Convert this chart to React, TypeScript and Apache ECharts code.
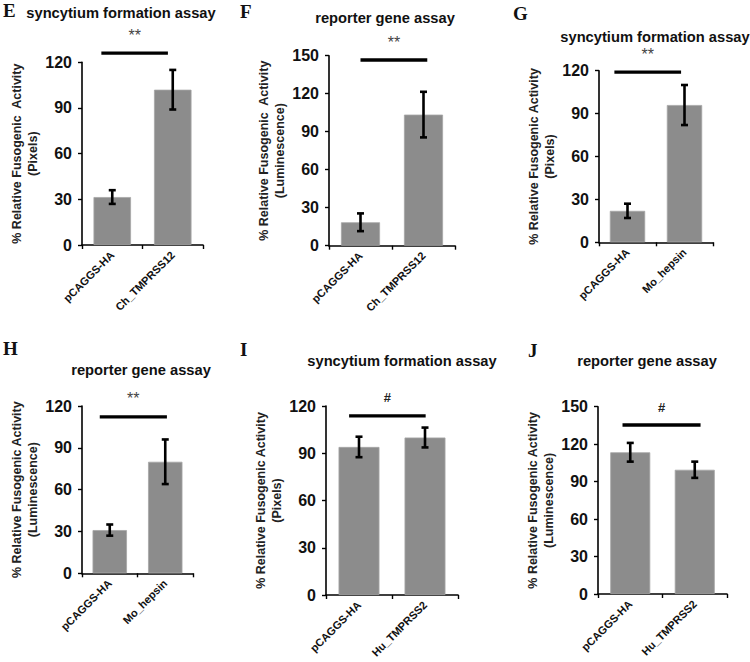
import React, { useEffect, useRef } from "react";
import * as echarts from "echarts";

// ---------- data ----------
const panelLetters = ["E", "F", "G", "H", "I", "J"];
const panelTitles = [
  "syncytium formation assay",
  "reporter gene assay",
  "syncytium formation assay",
  "reporter gene assay",
  "syncytium formation assay",
  "reporter gene assay",
];
const yAxisNames = [
  "% Relative Fusogenic  Activity\n(Pixels)",
  "% Relative Fusogenic  Activity\n(Luminescence)",
  "% Relative Fusogenic Activity\n(Pixels)",
  "% Relative Fusogenic Activity\n(Luminescence)",
  "% Relative Fusogenic Activity\n(Pixels)",
  "% Relative Fusogenic Activity\n(Luminescence)",
];

const categoriesE = ["pCAGGS-HA", "Ch_TMPRSS12"];
const valuesE = [31.5, 102];
const errorsE = [4.5, 13];

const categoriesF = ["pCAGGS-HA", "Ch_TMPRSS12"];
const valuesF = [18.5, 103.5];
const errorsF = [7, 18];

const categoriesG = ["pCAGGS-HA", "Mo_hepsin"];
const valuesG = [22, 96];
const errorsG = [5, 14];

const categoriesH = ["pCAGGS-HA", "Mo_hepsin"];
const valuesH = [31, 80];
const errorsH = [4, 16];

const categoriesI = ["pCAGGS-HA", "Hu_TMPRSS2"];
const valuesI = [94, 100];
const errorsI = [6.5, 6.3];

const categoriesJ = ["pCAGGS-HA", "Hu_TMPRSS2"];
const valuesJ = [113.5, 99.5];
const errorsJ = [7.5, 6.5];

const yMaxes = [120, 150, 120, 120, 120, 150];
const yInterval = 30;

const sigLabels = ["**", "**", "**", "**", "#", "#"];
const sigLevels = [126, 146.6, 119, 112.2, 113.7, 135.3];

// ---------- layout / style ----------
const grids = [
  { left: 82, top: 62.3, width: 121, height: 182.7 },
  { left: 329, top: 55.7, width: 126, height: 190 },
  { left: 599, top: 70.7, width: 114, height: 171.6 },
  { left: 82, top: 406, width: 111, height: 167.3 },
  { left: 326, top: 406, width: 132, height: 189 },
  { left: 598, top: 406.7, width: 129, height: 187.3 },
];
const nameGaps = [41, 39, 41, 41, 36, 38];
const sigSpans = [
  [-0.18, 0.92],
  [0, 1.06],
  [-0.23, 0.94],
  [-0.18, 1.03],
  [-0.15, 1.01],
  [-0.12, 1.09],
];
const letterPos = [
  [3, 10],
  [240, 11],
  [513, 13],
  [3, 348],
  [240, 349],
  [528, 350],
];
const titlePos = [
  [121, 12.5],
  [385, 18],
  [655, 37],
  [141, 370],
  [402, 361],
  [647, 361],
];

const SANS = "'Liberation Sans', Arial, sans-serif";
const SERIF = "'Liberation Serif', 'Times New Roman', serif";
const BAR_COLOR = "#8c8c8c";

const panels = [
  { cats: categoriesE, vals: valuesE, errs: errorsE },
  { cats: categoriesF, vals: valuesF, errs: errorsF },
  { cats: categoriesG, vals: valuesG, errs: errorsG },
  { cats: categoriesH, vals: valuesH, errs: errorsH },
  { cats: categoriesI, vals: valuesI, errs: errorsI },
  { cats: categoriesJ, vals: valuesJ, errs: errorsJ },
];

function buildOption() {
  const grid: any[] = [];
  const xAxis: any[] = [];
  const yAxis: any[] = [];
  const series: any[] = [];
  const graphic: any[] = [];

  panels.forEach((p, i) => {
    grid.push({ ...grids[i], containLabel: false });
    xAxis.push({
      type: "category",
      gridIndex: i,
      data: p.cats,
      axisLine: { show: true, lineStyle: { color: "#000", width: 1.6 } },
      axisTick: { show: true, length: 4, lineStyle: { color: "#000", width: 1.4 } },
      axisLabel: {
        interval: 0,
        rotate: 45,
        margin: 8,
        fontFamily: SANS,
        fontWeight: "bold",
        fontSize: 11,
        color: "#111",
      },
      splitLine: { show: false },
    });
    yAxis.push({
      type: "value",
      gridIndex: i,
      min: 0,
      max: yMaxes[i],
      interval: yInterval,
      name: yAxisNames[i],
      nameLocation: "middle",
      nameRotate: 90,
      nameGap: nameGaps[i],
      nameTextStyle: {
        fontFamily: SANS,
        fontWeight: "bold",
        fontSize: 12.5,
        lineHeight: 16,
        color: "#222",
        align: "center",
      },
      axisLine: { show: true, lineStyle: { color: "#000", width: 1.6 } },
      axisTick: { show: true, length: 4, lineStyle: { color: "#000", width: 1.4 } },
      axisLabel: {
        margin: 10,
        fontFamily: SANS,
        fontWeight: "bold",
        fontSize: 16,
        color: "#111",
      },
      splitLine: { show: false },
    });

    series.push({
      type: "bar",
      xAxisIndex: i,
      yAxisIndex: i,
      data: p.vals,
      barWidth: "62%",
      itemStyle: { color: BAR_COLOR, borderColor: "#a6a6a6", borderWidth: 0.8 },
      silent: true,
      z: 2,
    });

    series.push({
      type: "custom",
      xAxisIndex: i,
      yAxisIndex: i,
      data: p.vals.map((v, k) => [k, v, p.errs[k]]),
      encode: { x: 0, y: 1 },
      clip: false,
      z: 5,
      renderItem: (params: any, api: any) => {
        const x = api.value(0);
        const v = api.value(1);
        const e = api.value(2);
        const top = api.coord([x, v + e]);
        const bot = api.coord([x, v - e]);
        const hw = 3.5;
        const st = { stroke: "#000", lineWidth: 2.6 };
        return {
          type: "group",
          children: [
            { type: "line", shape: { x1: top[0], y1: top[1], x2: bot[0], y2: bot[1] }, style: st },
            { type: "line", shape: { x1: top[0] - hw, y1: top[1], x2: top[0] + hw, y2: top[1] }, style: st },
            { type: "line", shape: { x1: bot[0] - hw, y1: bot[1], x2: bot[0] + hw, y2: bot[1] }, style: st },
          ],
        };
      },
    });

    const isHash = sigLabels[i] === "#";
    series.push({
      type: "custom",
      xAxisIndex: i,
      yAxisIndex: i,
      data: [[0, sigLevels[i], sigSpans[i][0], sigSpans[i][1]]],
      encode: { x: 0, y: 1 },
      clip: false,
      z: 6,
      renderItem: (params: any, api: any) => {
        const level = api.value(1);
        const from = api.value(2);
        const to = api.value(3);
        const c0 = api.coord([0, level]);
        const band = api.size([1, 0])[0];
        const x1 = c0[0] + from * band;
        const x2 = c0[0] + to * band;
        const y = c0[1];
        return {
          type: "group",
          children: [
            { type: "line", shape: { x1, y1: y, x2, y2: y }, style: { stroke: "#000", lineWidth: 3.4 } },
            {
              type: "text",
              style: {
                text: sigLabels[i],
                x: (x1 + x2) / 2,
                y: y - 18,
                align: "center",
                verticalAlign: "middle",
                fontFamily: SANS,
                fontWeight: isHash ? "bold" : "normal",
                fontSize: isHash ? 13 : 16,
                fill: isHash ? "#222" : "#444",
              },
            },
          ],
        };
      },
    });

    graphic.push({
      type: "text",
      x: letterPos[i][0],
      y: letterPos[i][1],
      style: {
        text: panelLetters[i],
        align: "left",
        verticalAlign: "middle",
        fontFamily: SERIF,
        fontWeight: "bold",
        fontSize: 19,
        fill: "#111",
      },
    });
    graphic.push({
      type: "text",
      x: titlePos[i][0],
      y: titlePos[i][1],
      style: {
        text: panelTitles[i],
        align: "center",
        verticalAlign: "middle",
        fontFamily: SANS,
        fontWeight: "bold",
        fontSize: 14.7,
        fill: "#111",
      },
    });
  });

  return {
    animation: false,
    backgroundColor: "#fff",
    grid,
    xAxis,
    yAxis,
    series,
    graphic,
  };
}

export default function App() {
  const ref = useRef<HTMLDivElement | null>(null);
  useEffect(() => {
    if (!ref.current) return;
    const chart = echarts.init(ref.current, undefined, { renderer: "svg" });
    chart.setOption(buildOption() as any);
    return () => {
      chart.dispose();
    };
  }, []);
  return (
    <div
      ref={ref}
      style={{ position: "absolute", left: 0, top: 0, width: 750, height: 662, background: "#fff" }}
    />
  );
}
